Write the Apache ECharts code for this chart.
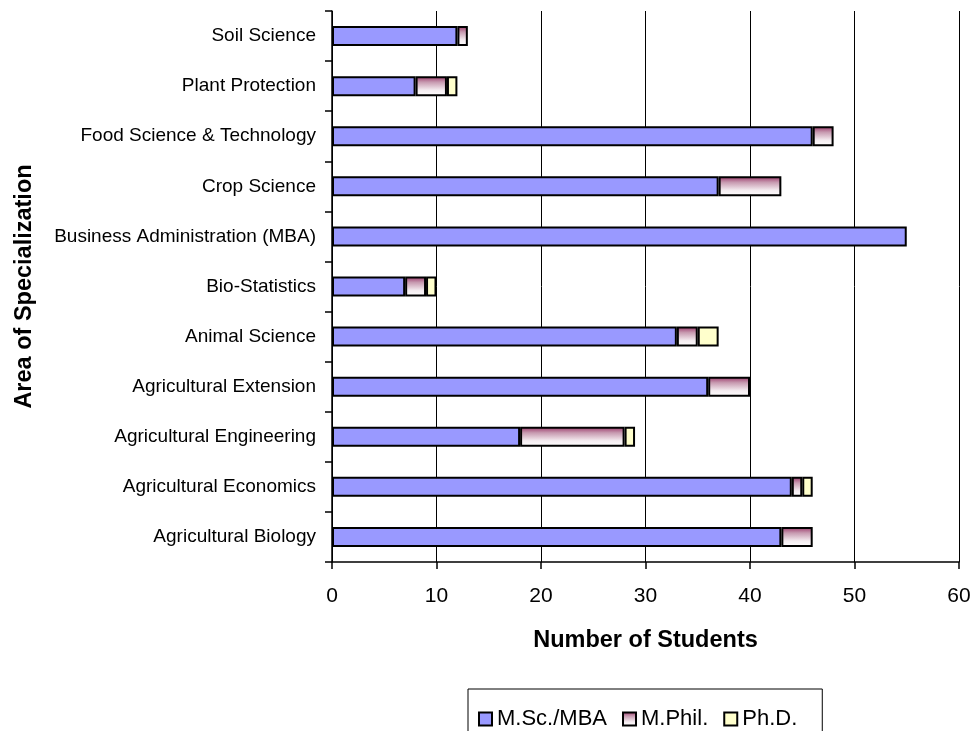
<!DOCTYPE html>
<html>
<head>
<meta charset="utf-8">
<style>
  html, body { margin: 0; padding: 0; background: #fff; }
  #chart { width: 980px; height: 731px; }
</style>
<script src="https://cdn.jsdelivr.net/npm/echarts@6/dist/echarts.min.js"></script>
</head>
<body>
<div id="chart"></div>
<script>
// bottom to top, as on the chart
const areas = [
  "Agricultural Biology",
  "Agricultural Economics",
  "Agricultural Engineering",
  "Agricultural Extension",
  "Animal Science",
  "Bio-Statistics",
  "Business Administration (MBA)",
  "Crop Science",
  "Food Science & Technology",
  "Plant Protection",
  "Soil Science"
];

const mscMba = [43, 44, 18, 36, 33, 7, 55, 37, 46, 8, 12];
const mphil  = [3, 1, 10, 4, 2, 2, 0, 6, 2, 3, 1];
const phd    = [0, 1, 1, 0, 2, 1, 0, 0, 0, 1, 0];

const seriesNames = ["M.Sc./MBA", "M.Phil.", "Ph.D."];

const chart = echarts.init(document.getElementById("chart"));

// zero-sized segments are skipped so they don't leave a stray border
function noZero(arr) {
  return arr.map(v => (v === 0 ? null : v));
}

const font = "'Liberation Sans', Arial, sans-serif";

const mphilFill = new echarts.graphic.LinearGradient(0, 0, 0, 1, [
  { offset: 0, color: "#993366" },
  { offset: 0.3, color: "#C79AB0" },
  { offset: 0.7, color: "#F4ECF0" },
  { offset: 1, color: "#FFFFFF" }
]);

chart.setOption({
  animation: false,
  textStyle: { fontFamily: font, color: "#000" },
  grid: {
    left: 332,
    right: 21,
    top: 11,
    bottom: 169
  },
  legend: {
    data: seriesNames,
    icon: "rect",
    left: 468,
    top: 689,
    orient: "horizontal",
    padding: [19, 25, 19, 10],
    itemGap: 15,
    itemWidth: 13,
    itemHeight: 13,
    borderColor: "#000",
    borderWidth: 1,
    backgroundColor: "#fff",
    textStyle: { fontFamily: font, fontSize: 22, color: "#000" }
  },
  xAxis: {
    type: "value",
    min: 0,
    max: 60,
    interval: 10,
    name: "Number of Students",
    nameLocation: "middle",
    nameGap: 67,
    nameTextStyle: { fontFamily: font, fontSize: 23.5, fontWeight: "bold", color: "#000" },
    axisLine: { show: true, lineStyle: { color: "#000", width: 1.5 } },
    axisTick: { show: true, length: 7, lineStyle: { color: "#000", width: 1.5 } },
    axisLabel: { fontFamily: font, fontSize: 21, color: "#000", margin: 24 },
    splitLine: { show: true, lineStyle: { color: "#000", width: 1 } }
  },
  yAxis: {
    type: "category",
    data: areas,
    name: "Area of Specialization",
    nameLocation: "middle",
    nameGap: 295,
    nameRotate: 90,
    nameTextStyle: { fontFamily: font, fontSize: 23.5, fontWeight: "bold", color: "#000" },
    axisLine: { show: true, lineStyle: { color: "#000", width: 1.5 } },
    axisTick: { show: true, length: 7, alignWithLabel: false, lineStyle: { color: "#000", width: 1.5 } },
    axisLabel: { fontFamily: font, fontSize: 19, color: "#000", margin: 16 },
    splitLine: { show: false }
  },
  series: [
    {
      name: seriesNames[0],
      type: "bar",
      stack: "total",
      barWidth: 20,
      data: noZero(mscMba),
      itemStyle: { color: "#9999FF", borderColor: "#000", borderWidth: 2 }
    },
    {
      name: seriesNames[1],
      type: "bar",
      stack: "total",
      barWidth: 20,
      data: noZero(mphil),
      itemStyle: { color: mphilFill, borderColor: "#000", borderWidth: 2 }
    },
    {
      name: seriesNames[2],
      type: "bar",
      stack: "total",
      barWidth: 20,
      data: noZero(phd),
      itemStyle: { color: "#FFFFCC", borderColor: "#000", borderWidth: 2 }
    }
  ]
});

window.addEventListener("resize", () => chart.resize());
</script>
</body>
</html>
